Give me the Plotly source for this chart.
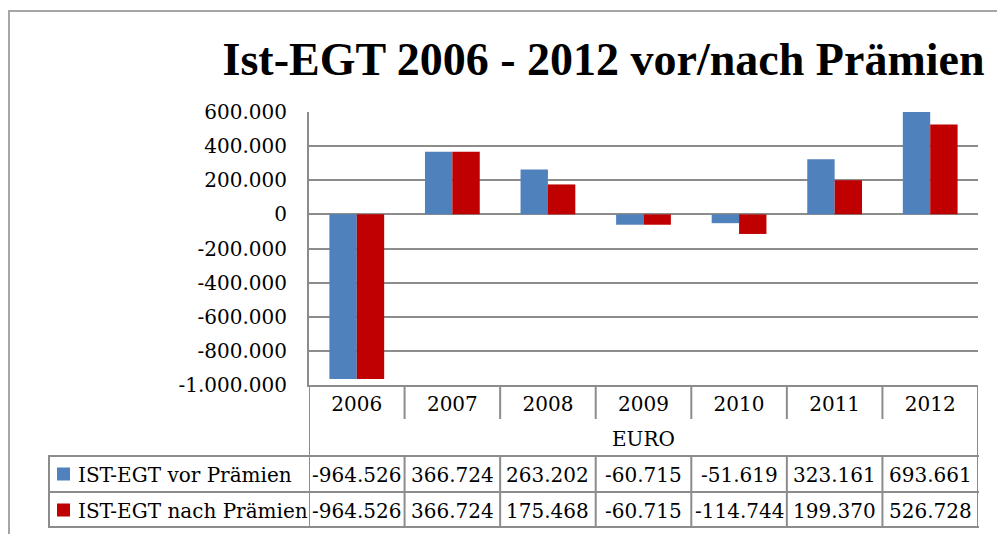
import plotly.graph_objects as go

years = ["2006", "2007", "2008", "2009", "2010", "2011", "2012"]
vor_praemien = [-964526, 366724, 263202, -60715, -51619, 323161, 693661]
nach_praemien = [-964526, 366724, 175468, -60715, -114744, 199370, 526728]
series_names = ["IST-EGT vor Prämien", "IST-EGT nach Prämien"]
series_colors = ["#4f81bd", "#c00000"]
y_ticks = [600000, 400000, 200000, 0, -200000, -400000, -600000, -800000, -1000000]
unit_label = "EURO"
title_text = "Ist-EGT 2006 - 2012 vor/nach Prämien"


def de(v):
    # german thousands separator, plain hyphen for negatives
    return f"{v:,}".replace(",", ".")


# the page body adds an 8px margin, so work in screen pixels and shift back
OFF = 8
W, H = 1005 - OFF, 534 - OFF
PL, PR, PT, PB = 309, 978, 112, 385  # plot area on screen


def fx(p):
    return (p - PL) / (PR - PL)


def fy(p):
    return (PB - p) / (PB - PT)


LINE = "#8c8c8c"
FONT = "DejaVu Serif"
TXT = dict(family=FONT, size=20, color="#000")

fig = go.Figure()
for name, vals, col in zip(series_names, [vor_praemien, nach_praemien], series_colors):
    fig.add_trace(go.Bar(x=years, y=vals, name=name, marker=dict(color=col, line=dict(width=0))))

shapes = []
annotations = []

# outer chart border
shapes.append(dict(type="rect", xref="paper", yref="paper", x0=fx(9), x1=fx(1000), y0=fy(560), y1=fy(11),
                   line=dict(color="#a6a6a6", width=2)))

# data table lines
n = len(years)
for i in range(n - 1):
    shapes.append(dict(type="line", xref="x", yref="paper", x0=i + 0.5, x1=i + 0.5, y0=fy(385), y1=fy(419),
                       line=dict(color=LINE, width=2)))
for i in range(-1, n):
    shapes.append(dict(type="line", xref="x", yref="paper", x0=i + 0.5, x1=i + 0.5, y0=fy(456), y1=fy(528),
                       line=dict(color=LINE, width=2)))
for xx in [-0.5, n - 0.5]:
    shapes.append(dict(type="line", xref="x", yref="paper", x0=xx, x1=xx, y0=fy(385), y1=fy(456),
                       line=dict(color=LINE, width=2)))
shapes.append(dict(type="line", xref="paper", yref="paper", x0=fx(49), x1=fx(49), y0=fy(456), y1=fy(528),
                   line=dict(color=LINE, width=2)))
for yy in [456, 492, 527]:
    shapes.append(dict(type="line", xref="paper", yref="paper", x0=fx(48), x1=fx(979), y0=fy(yy), y1=fy(yy),
                       line=dict(color=LINE, width=2)))

annotations.append(dict(text=unit_label, xref="paper", yref="paper", x=0.5, y=fy(439), xanchor="center",
                        yanchor="middle", showarrow=False, font=TXT))

row_y = [474, 510]
for r, (name, vals, col) in enumerate(zip(series_names, [vor_praemien, nach_praemien], series_colors)):
    yc = row_y[r]
    shapes.append(dict(type="rect", xref="paper", yref="paper", x0=fx(57), x1=fx(70), y0=fy(yc + 6.5),
                       y1=fy(yc - 6.5), fillcolor=col, line=dict(width=0)))
    annotations.append(dict(text=name, xref="paper", yref="paper", x=fx(76), y=fy(yc + 1), xanchor="left",
                            yanchor="middle", showarrow=False, font=TXT))
    for k, v in enumerate(vals):
        annotations.append(dict(text=de(v), xref="x", yref="paper", x=k, y=fy(yc + 1), xanchor="center",
                                yanchor="middle", showarrow=False, font=TXT))

fig.update_layout(
    width=W, height=H,
    margin=dict(l=PL - OFF, r=W - (PR - OFF), t=PT - OFF, b=H - (PB - OFF), pad=0),
    paper_bgcolor="white", plot_bgcolor="white",
    showlegend=False,
    barmode="group", bargap=0.427, bargroupgap=0,
    title=dict(text=title_text, x=(603.5 - OFF) / W, xanchor="center", y=1 - (59 - OFF) / H, yanchor="middle",
               font=dict(family="Liberation Serif", size=46, color="#000", weight="bold")),
    font=TXT,
    shapes=shapes,
    annotations=annotations,
)
fig.update_yaxes(range=[-1000000, 600000], tickvals=y_ticks, ticktext=[de(v) for v in y_ticks],
                 showgrid=True, gridcolor=LINE, gridwidth=1.5, zeroline=False,
                 showline=True, linecolor=LINE, linewidth=2, ticks="", ticklabelstandoff=16,
                 tickfont=TXT)
fig.update_xaxes(type="category", range=[-0.5, n - 0.5], showgrid=False, showline=True, linecolor=LINE,
                 linewidth=2, ticks="", ticklabelstandoff=0, tickfont=TXT)

fig.write_html("out.html")
